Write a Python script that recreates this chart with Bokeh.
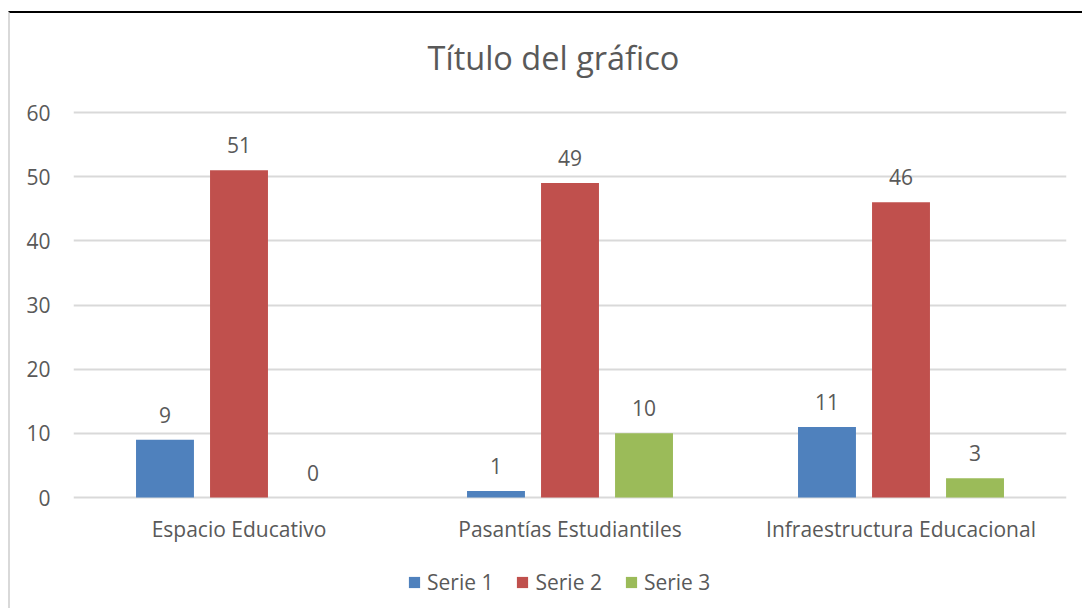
from bokeh.plotting import figure
from bokeh.models import ColumnDataSource, FactorRange, Legend, LegendItem, Range1d, Label
from bokeh.transform import dodge
from bokeh.core.properties import value
from bokeh.embed import file_html
from bokeh.resources import INLINE

title_text = "Título del gráfico"
categories = ["Espacio Educativo", "Pasantías Estudiantiles", "Infraestructura Educacional"]
series_names = ["Serie 1", "Serie 2", "Serie 3"]
serie1 = [9, 1, 11]
serie2 = [51, 49, 46]
serie3 = [0, 10, 3]
y_ticks = [0, 10, 20, 30, 40, 50, 60]

colors = ["#4F81BD", "#C0504D", "#9BBB59"]
offsets = [-0.2236, 0.0, 0.2236]
FONT = "Open Sans"
TXT = "#595959"

src = ColumnDataSource(dict(
    cat=categories,
    s1=serie1, s2=serie2, s3=serie3,
    l1=[str(v) for v in serie1], l2=[str(v) for v in serie2], l3=[str(v) for v in serie3],
))

# frame spans the full height; 60 units = 385 px, 99 px above 60 and 113 px below 0
PX = 60 / 385
p = figure(
    x_range=FactorRange(factors=categories, range_padding=0),
    y_range=Range1d(-113 * PX, 60 + 99 * PX),
    width=1074, height=597,
    output_backend="svg", toolbar_location=None,
    min_border_left=63, min_border_right=18, min_border_top=0, min_border_bottom=0,
)
p.styles = {"border-top": "2px solid #000000", "border-left": "2px solid #d9d9d9",
            "margin-top": "11px", "margin-left": "8px"}
p.outline_line_color = None

p.add_layout(Label(x=1.45, y=60 + 55 * PX, text=title_text, text_align="center", text_baseline="middle",
                   text_font=FONT, text_font_size="32.5px", text_color=TXT))

renderers = []
fields = ["s1", "s2", "s3"]
labels = ["l1", "l2", "l3"]
for i in range(3):
    r = p.vbar(x=dodge("cat", offsets[i], range=p.x_range), top=fields[i], width=0.175,
               color=colors[i], line_color=None, source=src)
    renderers.append(r)
    p.text(x=dodge("cat", offsets[i], range=p.x_range), y=fields[i], text=labels[i], source=src,
           text_font=value(FONT), text_font_size="21px", text_color=TXT,
           text_align="center", text_baseline="middle", y_offset=-25)

p.xgrid.grid_line_color = None
p.ygrid.grid_line_color = "#D9D9D9"
p.ygrid.grid_line_width = 2
p.ygrid.ticker = y_ticks

p.yaxis.ticker = y_ticks
p.yaxis.axis_line_color = None
p.yaxis.major_tick_line_color = None
p.yaxis.minor_tick_line_color = None
p.yaxis.major_tick_out = 0
p.yaxis.major_label_standoff = 23
p.yaxis.major_label_text_font = FONT
p.yaxis.major_label_text_font_size = "21px"
p.yaxis.major_label_text_color = TXT

p.xaxis.fixed_location = 0
p.xaxis.axis_line_color = None
p.xaxis.major_tick_line_color = None
p.xaxis.major_tick_out = 0
p.xaxis.major_label_standoff = 17
p.xaxis.major_label_text_font = FONT
p.xaxis.major_label_text_font_size = "21px"
p.xaxis.major_label_text_color = TXT

legend = Legend(
    items=[LegendItem(label=series_names[i], renderers=[renderers[i]]) for i in range(3)],
    orientation="horizontal", location=(334, 14),
    glyph_width=14, glyph_height=14, label_standoff=6, spacing=22,
    label_text_font=FONT, label_text_font_size="21px", label_text_color=TXT,
    border_line_color=None, background_fill_alpha=0, padding=0, margin=0,
)
p.add_layout(legend, "center")

open("out.html", "w").write(file_html(p, INLINE))
